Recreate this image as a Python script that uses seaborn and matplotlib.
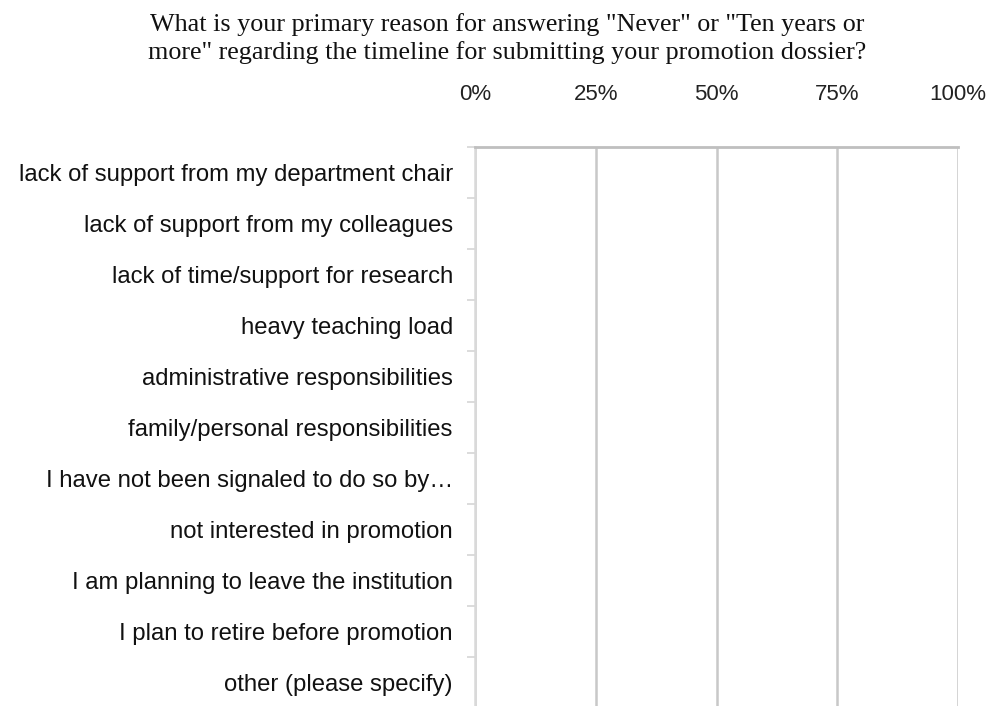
import matplotlib
matplotlib.use("Agg")
import matplotlib.pyplot as plt
import seaborn as sns
import numpy as np
import pandas as pd

# Data (every response share reads as 0 in the reference)
reasons = [
    "lack of support from my department chair",
    "lack of support from my colleagues",
    "lack of time/support for research",
    "heavy teaching load",
    "administrative responsibilities",
    "family/personal responsibilities",
    "I have not been signaled to do so by\u2026",
    "not interested in promotion",
    "I am planning to leave the institution",
    "I plan to retire before promotion",
    "other (please specify)",
]
shares = [0, 0, 0, 0, 0, 0, 0, 0, 0, 0, 0]
x_ticks = [0, 25, 50, 75, 100]
x_tick_labels = ["0%", "25%", "50%", "75%", "100%"]

df = pd.DataFrame({"reason": reasons, "share": shares})

sns.set_theme(style="white")
plt.rcParams['font.family'] = ['Liberation Sans', 'DejaVu Sans']

fig = plt.figure(figsize=(10.06, 7.06), dpi=100)
ax = fig.add_axes([475 / 1006, -2 / 706, (958 - 475) / 1006, (706 + 2 - 147) / 706])

sns.barplot(data=df, x="share", y="reason", color="#4472c4", ax=ax, orient="h")

ax.set_xlim(0, 100)
ax.set_ylim(len(reasons) - 0.5, -0.5)
ax.xaxis.tick_top()
ax.set_xticks(x_ticks)
ax.set_xticklabels(x_tick_labels)
ax.tick_params(axis="x", length=0, pad=30, labelsize=16, labelcolor="#222222")
ax.grid(axis="x", color="#c8c8c8", linewidth=1.8)
ax.set_axisbelow(True)

# labels at row centres, short tick marks at row boundaries
ax.set_yticks(np.arange(len(reasons)), minor=True)
ax.set_yticklabels(reasons, minor=True)
ax.set_yticks(np.arange(len(reasons) + 1) - 0.5)
ax.set_yticklabels([])
ax.tick_params(axis="y", which="minor", length=0, pad=16, labelsize=17.2, labelcolor="#111111")
ax.tick_params(axis="y", which="major", length=6, width=1.3, color="#d9d9d9", left=True)

ax.set_xlabel("")
ax.set_ylabel("")
for side in ["right", "bottom"]:
    ax.spines[side].set_visible(False)
ax.spines["top"].set_color("#bfbfbf")
ax.spines["top"].set_linewidth(2)
ax.spines["left"].set_color("#d9d9d9")
ax.spines["left"].set_linewidth(1.8)

fig.text(0.504, 0.982,
         "What is your primary reason for answering \"Never\" or \"Ten years or\n"
         "more\" regarding the timeline for submitting your promotion dossier?",
         ha="center", va="top", fontsize=18.8, family="Liberation Serif",
         linespacing=1.32, color="#111111")

fig.savefig("out.png", dpi=100)
